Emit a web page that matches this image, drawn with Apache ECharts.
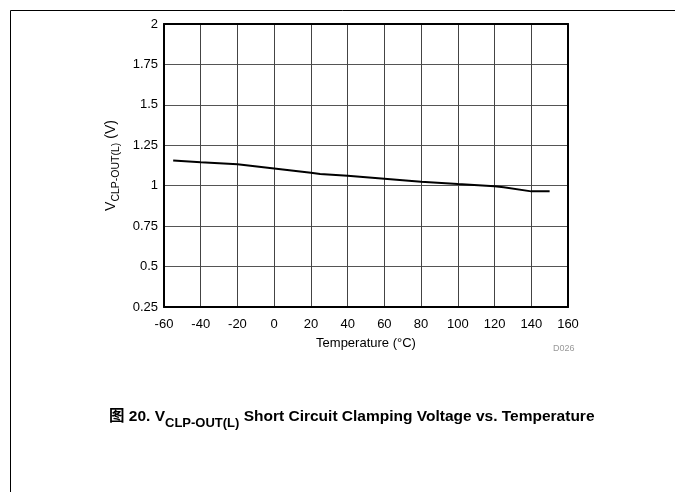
<!DOCTYPE html>
<html>
<head>
<meta charset="utf-8">
<script src="https://cdn.jsdelivr.net/npm/echarts@6/dist/echarts.min.js"></script>
<style>
  html, body { margin: 0; padding: 0; background: #fff; }
</style>
</head>
<body>
<div id="chart" style="width:675px;height:495px"></div>
<script>
// temperature (°C) and clamping voltage (V)
const temps = [-55, -40, -20, 0, 20, 25, 40, 60, 80, 100, 120, 125, 140, 150]
const volts = [1.156, 1.145, 1.133, 1.107, 1.08, 1.072, 1.061, 1.043, 1.025, 1.01, 0.996, 0.99, 0.965, 0.965]

const xMin = -60, xMax = 160, xStep = 20
const yMin = 0.25, yMax = 2, yStep = 0.25

const font = '"Liberation Sans", Arial, sans-serif'

const chart = echarts.init(document.getElementById('chart'))

chart.setOption({
  backgroundColor: '#fff',
  animation: false,
  textStyle: { fontFamily: font },
  grid: { left: 164, top: 24, width: 404, height: 283 },
  title: {
    left: 104,
    top: 404,
    text: '{a|图 20. V}{b|CLP-OUT(L)}{a| Short Circuit Clamping Voltage vs. Temperature}',
    textStyle: {
      rich: {
        a: { fontSize: 15.5, fontWeight: 'bold', color: '#000', fontFamily: font + ', "Noto Sans CJK SC"', lineHeight: 21, verticalAlign: 'top' },
        b: { fontSize: 13, fontWeight: 'bold', color: '#000', fontFamily: font, lineHeight: 21, verticalAlign: 'bottom', padding: [7, 0, 0, 0] }
      }
    }
  },
  xAxis: [{
    type: 'value',
    min: xMin,
    max: xMax,
    interval: xStep,
    name: 'Temperature (°C)',
    nameLocation: 'middle',
    nameGap: 30,
    nameTextStyle: { fontSize: 13, color: '#000', fontFamily: font },
    axisLine: { onZero: false, lineStyle: { color: '#000', width: 2 } },
    axisTick: { show: false },
    axisLabel: { fontSize: 13, color: '#000', margin: 11, fontFamily: font },
    splitLine: { lineStyle: { color: '#444', width: 1 } }
  }, {
    type: 'value',
    position: 'top',
    min: xMin,
    max: xMax,
    axisLine: { show: true, onZero: false, lineStyle: { color: '#000', width: 2 } },
    axisTick: { show: false },
    axisLabel: { show: false },
    splitLine: { show: false }
  }],
  yAxis: [{
    type: 'value',
    min: yMin,
    max: yMax,
    interval: yStep,
    name: '{a|V}{b|CLP-OUT(L)}{a| (V)}',
    nameLocation: 'middle',
    nameGap: 42,
    nameTextStyle: {
      rich: {
        a: { fontSize: 14, color: '#000', fontFamily: font, lineHeight: 18, verticalAlign: 'top' },
        b: { fontSize: 10.5, color: '#000', fontFamily: font, lineHeight: 18, verticalAlign: 'bottom', padding: [5, 0, 0, 0] }
      }
    },
    axisLine: { show: true, onZero: false, lineStyle: { color: '#000', width: 2 } },
    axisTick: { show: false },
    axisLabel: { fontSize: 13, color: '#000', margin: 6, fontFamily: font },
    splitLine: { lineStyle: { color: '#555', width: 1 } }
  }, {
    type: 'value',
    position: 'right',
    min: yMin,
    max: yMax,
    axisLine: { show: true, onZero: false, lineStyle: { color: '#000', width: 2 } },
    axisTick: { show: false },
    axisLabel: { show: false },
    splitLine: { show: false }
  }],
  graphic: [{
    type: 'polyline',
    shape: { points: [[10.5, 492], [10.5, 10.5], [675, 10.5]] },
    style: { stroke: '#000', lineWidth: 1, fill: null }
  }, {
    type: 'text',
    left: 553,
    top: 344,
    style: { text: 'D026', fontSize: 9, fill: '#999', fontFamily: font }
  }],
  series: [{
    type: 'line',
    data: temps.map((t, i) => [t, volts[i]]),
    symbol: 'none',
    smooth: false,
    lineStyle: { color: '#000', width: 2 },
    z: 5
  }]
})
</script>
</body>
</html>
